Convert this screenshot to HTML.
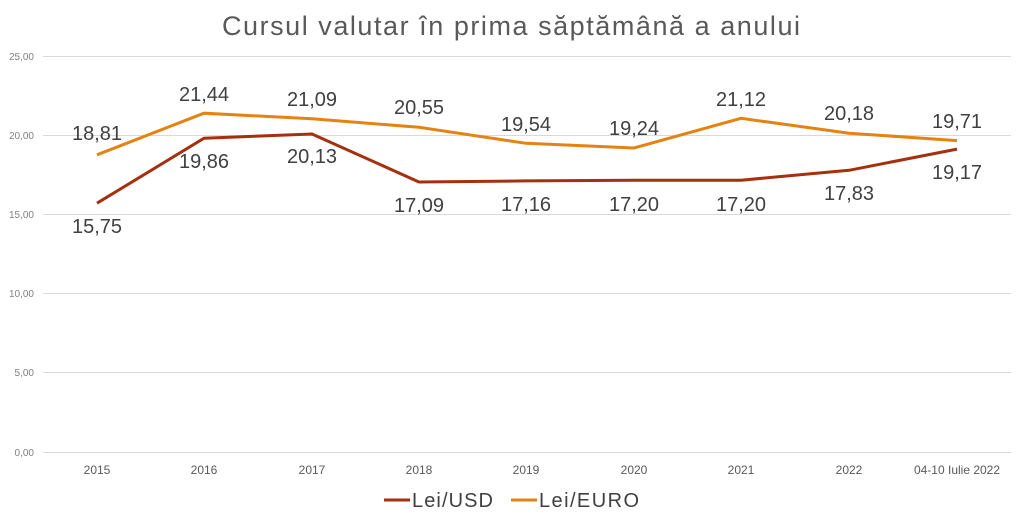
<!DOCTYPE html>
<html><head><meta charset="utf-8"><style>
body{margin:0;background:#fff}
svg{display:block;font-family:"Liberation Sans",sans-serif}
</style></head><body>
<svg width="1023" height="526" viewBox="0 0 1023 526">
<text x="511" y="35" text-anchor="middle" font-size="27" fill="#595959" textLength="578" lengthAdjust="spacing">Cursul valutar în prima săptămână a anului</text>
<g stroke="#d9d9d9" stroke-width="1">
<line x1="43" x2="1011" y1="56.5" y2="56.5"/>
<line x1="43" x2="1011" y1="135.5" y2="135.5"/>
<line x1="43" x2="1011" y1="214.5" y2="214.5"/>
<line x1="43" x2="1011" y1="293.5" y2="293.5"/>
<line x1="43" x2="1011" y1="372.5" y2="372.5"/>
<line x1="43" x2="1011" y1="452.5" y2="452.5"/>
</g>
<g font-size="10" fill="#808080" text-anchor="end">
<text x="34" y="60">25,00</text>
<text x="34" y="139">20,00</text>
<text x="34" y="218">15,00</text>
<text x="34" y="297">10,00</text>
<text x="34" y="376">5,00</text>
<text x="34" y="456">0,00</text>
</g>
<g font-size="12" fill="#595959" text-anchor="middle">
<text x="97" y="474">2015</text><text x="204" y="474">2016</text><text x="312" y="474">2017</text>
<text x="419" y="474">2018</text><text x="526" y="474">2019</text><text x="634" y="474">2020</text>
<text x="741" y="474">2021</text><text x="849" y="474">2022</text><text x="957" y="474">04-10 Iulie 2022</text>
</g>
<polyline fill="none" stroke="#a5300f" stroke-width="3" points="97,203.2 204,138.2 312,134 419,182 526,180.9 634,180.2 741,180.2 849,170.3 957,149.1"/>
<polyline fill="none" stroke="#e48312" stroke-width="3" points="97,154.8 204,113.2 312,118.8 419,127.3 526,143.3 634,148 741,118.3 849,133.2 957,140.6"/>
<g font-size="20" fill="#404040" text-anchor="middle">
<text x="97" y="140">18,81</text><text x="204" y="101">21,44</text><text x="312" y="106">21,09</text>
<text x="419" y="114">20,55</text><text x="526" y="131">19,54</text><text x="634" y="135">19,24</text>
<text x="741" y="106">21,12</text><text x="849" y="120">20,18</text><text x="957" y="128">19,71</text>
<text x="97" y="233">15,75</text><text x="204" y="168">19,86</text><text x="312" y="163">20,13</text>
<text x="419" y="212">17,09</text><text x="526" y="211">17,16</text><text x="634" y="211">17,20</text>
<text x="741" y="211">17,20</text><text x="849" y="200">17,83</text><text x="957" y="179">19,17</text>
</g>
<line x1="384" x2="410" y1="500" y2="500" stroke="#a5300f" stroke-width="3"/>
<text x="412" y="507" font-size="20" fill="#404040" textLength="81" lengthAdjust="spacing">Lei/USD</text>
<line x1="511" x2="537" y1="500" y2="500" stroke="#e48312" stroke-width="3"/>
<text x="539" y="507" font-size="20" fill="#404040" textLength="100" lengthAdjust="spacing">Lei/EURO</text>
</svg>
</body></html>
